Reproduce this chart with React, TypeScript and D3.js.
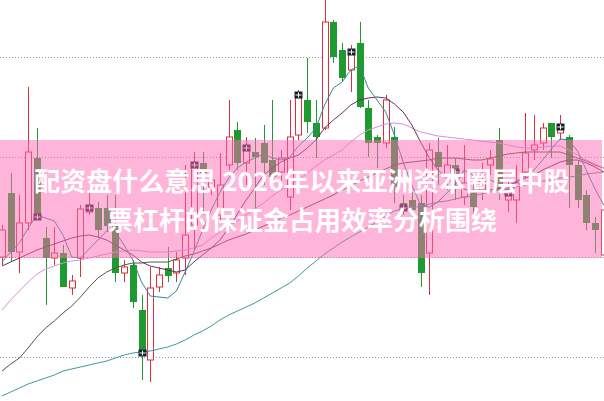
import React from "react";
import * as d3 from "d3";

const W = 604;
const H = 401;

// OHLC per trading day (price units)
const opens = [10.00,10.64,10.05,10.34,10.99,10.19,9.99,10.04,9.69,9.99,10.45,10.49,10.49,10.32,9.84,9.92,9.47,8.97,9.70,9.89,9.84,9.99,10.32,10.94,10.70,10.42,10.92,11.27,10.94,11.05,11.14,10.97,10.85,10.60,11.22,11.57,11.34,11.29,12.35,12.07,11.87,12.14,11.49,11.20,11.14,11.20,10.54,10.57,10.54,10.04,11.05,10.82,10.92,10.60,10.65,10.67,10.92,11.17,10.57,10.57,10.85,11.07,11.14,11.34,11.24,11.20,10.92,10.62,10.34,10.02];
const highs = [10.32,10.84,10.62,11.70,11.29,10.30,10.30,10.12,9.82,10.52,10.65,10.55,10.62,10.62,9.97,9.97,9.62,9.90,9.90,10.10,10.05,10.92,11.05,11.05,10.87,11.04,11.57,11.35,11.20,11.19,11.32,11.57,11.07,11.57,11.67,11.99,11.57,12.62,12.37,12.14,12.12,12.35,11.57,11.22,11.62,11.30,10.62,10.65,10.62,11.14,11.19,11.12,10.99,11.12,10.75,10.94,11.07,11.29,10.75,10.92,11.44,11.42,11.34,11.34,11.42,11.22,10.97,10.67,10.40,10.52];
const lows = [9.92,9.95,9.84,10.27,10.37,9.52,9.92,9.70,9.62,9.80,10.42,10.19,10.25,9.75,9.75,9.49,8.77,8.75,9.65,9.75,9.75,9.82,10.07,10.42,10.62,10.35,10.87,10.87,10.72,10.44,10.72,10.67,10.72,10.47,11.17,11.24,10.99,11.27,11.94,11.75,11.65,11.49,11.00,10.89,11.09,10.54,10.42,10.27,9.70,9.62,10.72,10.67,10.57,10.52,10.42,10.57,10.82,10.57,10.45,10.34,10.79,10.97,11.07,10.99,11.17,10.49,10.49,10.27,10.04,9.99];
const closes = [10.27,10.05,10.34,11.05,10.40,9.99,10.04,9.70,9.76,10.48,10.49,10.27,10.31,9.84,9.90,9.55,9.04,9.69,9.82,9.81,9.97,10.22,10.92,10.84,10.77,10.72,11.20,10.94,11.09,11.00,10.94,10.80,10.99,11.20,11.62,11.35,11.20,12.35,12.00,11.79,12.05,11.50,11.14,11.14,11.57,10.70,10.49,10.47,9.84,11.07,10.90,10.92,10.85,10.74,10.50,10.77,10.98,10.67,10.64,10.74,11.04,11.12,11.29,11.20,11.30,10.92,10.57,10.34,10.27,10.47];

// days carrying the small square signal marker
const markerDays = [4,10,16,22,28,34,40,46,52,58,64];

// moving averages
const ma5 = [9.95,10.05,10.14,10.29,10.42,10.39,10.36,10.22,10.00,9.99,10.08,10.17,10.26,10.25,10.12,9.97,9.75,9.61,9.60,9.59,9.66,9.85,10.05,10.27,10.47,10.65,10.79,10.89,10.95,10.99,11.03,10.99,10.97,11.00,11.11,11.19,11.29,11.52,11.69,11.75,11.87,11.91,11.69,11.57,11.45,11.22,10.95,10.72,10.52,10.50,10.55,10.64,10.72,10.87,10.82,10.76,10.77,10.73,10.71,10.76,10.81,10.87,10.97,11.08,11.18,11.17,11.06,10.87,10.68,10.52];
const ma10 = [9.91,9.95,9.99,10.03,10.07,10.10,10.13,10.16,10.19,10.21,10.22,10.20,10.17,10.12,10.07,10.02,9.95,9.91,9.89,9.87,9.85,9.87,9.95,10.02,10.09,10.17,10.29,10.43,10.57,10.69,10.82,10.89,10.95,10.99,11.02,11.09,11.17,11.29,11.37,11.44,11.52,11.57,11.59,11.60,11.59,11.53,11.45,11.32,11.15,10.99,10.87,10.79,10.72,10.68,10.65,10.65,10.67,10.69,10.71,10.75,10.79,10.82,10.87,10.91,10.95,10.97,10.97,10.94,10.90,10.85];
const ma20 = [9.47,9.57,9.66,9.75,9.83,9.88,9.91,9.94,9.96,9.97,9.99,10.01,10.03,10.05,10.06,10.07,10.06,10.05,10.05,10.05,10.06,10.07,10.09,10.12,10.19,10.25,10.31,10.36,10.42,10.48,10.54,10.61,10.67,10.72,10.77,10.84,10.91,10.97,11.02,11.07,11.15,11.22,11.27,11.30,11.33,11.34,11.33,11.29,11.25,11.23,11.21,11.20,11.19,11.18,11.17,11.16,11.15,11.14,11.12,11.10,11.09,11.09,11.10,11.11,11.11,11.07,11.02,10.97,10.93,10.89];
const ma30 = [8.86,8.93,8.99,9.09,9.20,9.29,9.36,9.44,9.51,9.60,9.70,9.79,9.85,9.89,9.92,9.94,9.94,9.95,9.95,9.95,9.98,10.01,10.03,10.06,10.09,10.13,10.17,10.20,10.23,10.27,10.31,10.35,10.39,10.42,10.46,10.50,10.54,10.58,10.62,10.67,10.71,10.76,10.80,10.84,10.88,10.92,10.94,10.95,10.96,10.97,10.99,10.99,10.99,10.98,10.97,10.97,10.99,11.01,11.03,11.04,11.05,11.05,11.05,11.05,11.05,11.02,10.99,10.96,10.92,10.89];
const maLong = [8.61,8.65,8.69,8.73,8.76,8.79,8.82,8.86,8.88,8.90,8.92,8.94,8.96,8.99,9.02,9.04,9.05,9.06,9.08,9.10,9.13,9.17,9.22,9.26,9.31,9.37,9.42,9.46,9.50,9.54,9.59,9.64,9.69,9.74,9.81,9.89,9.96,10.03,10.09,10.15,10.20,10.25,10.30,10.35,10.41,10.46,10.48,10.49,10.51,10.53,10.55,10.56,10.58,10.60,10.61,10.63,10.65,10.67,10.69,10.70,10.72,10.74,10.76,10.77,10.79,10.80,10.81,10.83,10.84,10.85];

const gridTicks = [9, 10, 11, 12];
const titleLines = ["配资盘什么意思 2026年以来亚洲资本圈层中股", "票杠杆的保证金占用效率分析围绕"];

const UP = "#dc2f3c";
const DOWN = "#1f9a30";

export default function App() {
  const x = d3.scaleLinear().domain([0, opens.length - 1]).range([2, 603.7]);
  const y = d3.scaleLinear().domain([8.56, 12.57]).range([H, 0]);
  const line = d3
    .line<number>()
    .x((_, i) => x(i))
    .y((d) => y(d));

  const maDefs = [
    { data: maLong, color: "#3c9a9c" },
    { data: ma30, color: "#4f5a36" },
    { data: ma20, color: "#d98ee0" },
    { data: ma10, color: "#6b2f5f" },
    { data: ma5, color: "#2f8a92" },
  ];

  const bw = 7;

  return (
    <svg
      width={W}
      height={H}
      style={{ position: "fixed", left: 0, top: 0, background: "#fff" }}
    >
      {gridTicks.map((t) => (
        <line
          key={t}
          x1={0}
          x2={W}
          y1={Math.round(y(t)) + 0.5}
          y2={Math.round(y(t)) + 0.5}
          stroke="#9a9a9a"
          strokeWidth={1}
          strokeDasharray="1,2"
        />
      ))}
      {opens.map((o, i) => {
        const c = closes[i];
        const up = c >= o;
        const col = up ? UP : DOWN;
        const cx = Math.round(x(i)) + 0.5;
        const top = y(Math.max(o, c));
        const bot = y(Math.min(o, c));
        const h = Math.max(1, bot - top);
        return (
          <g key={i}>
            <line x1={cx} x2={cx} y1={y(highs[i])} y2={y(lows[i])} stroke={col} strokeWidth={1} />
            {up ? (
              <rect x={cx - bw / 2 + 0.5} y={top} width={bw - 1} height={h} fill="#fff" stroke={col} strokeWidth={1} />
            ) : (
              <rect x={cx - bw / 2} y={top} width={bw} height={h} fill={col} />
            )}
          </g>
        );
      })}
      {maDefs.map((m, k) => (
        <path key={k} d={line(m.data) || ""} fill="none" stroke={m.color} strokeWidth={1} />
      ))}
      {markerDays.map((d) => {
        const cx = Math.round(x(d)) + 0.5;
        const cy = y(closes[d]);
        return (
          <g key={d}>
            <rect x={cx - 4} y={cy - 3.5} width={8} height={7} fill="#16202c" />
            <line x1={cx - 3} x2={cx + 3} y1={cy} y2={cy} stroke="#fff" strokeWidth={1} />
            <line x1={cx} x2={cx} y1={cy - 2.5} y2={cy + 2.5} stroke="#fff" strokeWidth={1} />
          </g>
        );
      })}
      <rect x={0} y={140} width={602} height={118} fill="#ff69b4" fillOpacity={0.5} />
      {titleLines.map((t, i) => (
        <text
          key={i}
          x={302}
          y={191 + i * 39}
          textAnchor="middle"
          fill="#fff"
          fontFamily='"Noto Sans CJK SC", "Noto Sans", sans-serif'
          fontWeight={700}
          fontSize={26}
        >
          {t}
        </text>
      ))}
    </svg>
  );
}
